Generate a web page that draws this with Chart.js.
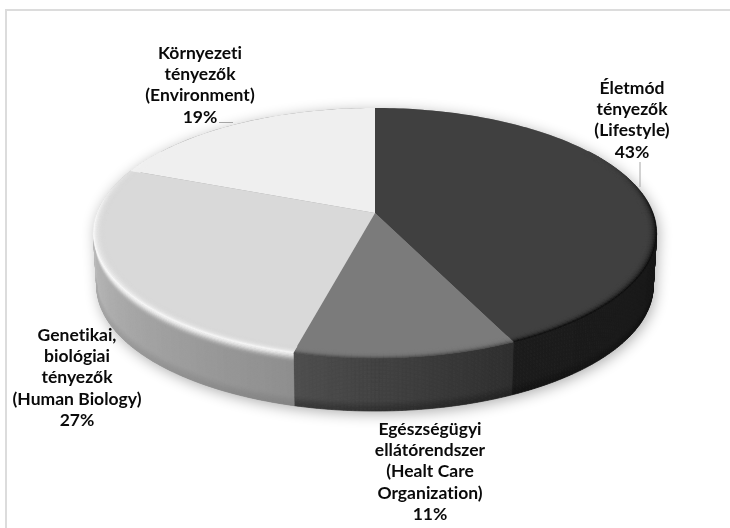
<!DOCTYPE html>
<html>
<head>
<meta charset="utf-8">
<script src="https://cdn.jsdelivr.net/npm/chart.js@4/dist/chart.umd.min.js"></script>
<style>
  html, body { margin: 0; padding: 0; background: #fff; overflow: hidden; }
  #wrap { position: relative; width: 730px; height: 528px; overflow: hidden; }
  #frame { position: absolute; left: 5px; top: 9px; width: 760px; height: 560px; border: 2px solid #dcdcdc; box-sizing: border-box; }
  canvas { position: absolute; left: 0; top: 0; filter: blur(0.35px); }
</style>
</head>
<body>
<div id="wrap">
  <div id="frame"></div>
  <canvas id="myChart" width="730" height="528"></canvas>
</div>
<script>
// les données
const categories = [
  ['Életmód', 'tényezők', '(Lifestyle)'],
  ['Egészségügyi', 'ellátórendszer', '(Healt Care', 'Organization)'],
  ['Genetikai,', 'biológiai', 'tényezők', '(Human Biology)'],
  ['Környezeti', 'tényezők', '(Environment)']
];
const shares = [43, 11, 27, 19];

// gris par part (0-255)
const faceGray = [64, 123, 217, 239];
const rimGray = [4, 72, 255, 255];
const wallStartGray = [25, 46, 143, 200];
const wallEndGray = [27, 78, 186, 200];

// position du texte de chaque part
const labelX = [632, 430, 77, 200];
const labelY = [88, 429, 335, 53];
const lineHeight = 21.4;

// la perspective du disque
const stretchX = 1.305;
const stretchY = 0.572;
const tilt = -0.16;
const depth = 53;
const narrowing = 0.012;

function mix(a, b, t) {
  const g = Math.round(a + (b - a) * t);
  return `rgb(${g},${g},${g})`;
}

function smooth(a, b, x) {
  const t = Math.min(1, Math.max(0, (x - a) / (b - a)));
  return t * t * (3 - 2 * t);
}

function project(arc, angle, r, z) {
  const u = Math.cos(angle) * r, v = Math.sin(angle) * r;
  const w = 1 + tilt * v;
  const R = arc.outerRadius;
  const x = R * stretchX * u / w * (1 - narrowing * z);
  const y = R * stretchY * v / w + depth * z;
  return [arc.x + x, arc.y + y];
}

function quad(ctx, pts, color) {
  ctx.fillStyle = color;
  ctx.strokeStyle = color;
  ctx.lineWidth = 0.7;
  ctx.beginPath();
  pts.forEach((p, i) => i ? ctx.lineTo(p[0], p[1]) : ctx.moveTo(p[0], p[1]));
  ctx.closePath();
  ctx.fill();
  ctx.stroke();
}

function drawShadow(ctx, arc) {
  ctx.save();
  ctx.shadowColor = 'rgba(0,0,0,0.32)';
  ctx.shadowBlur = 14;
  ctx.shadowOffsetY = 3;
  ctx.shadowOffsetX = 2;
  ctx.fillStyle = '#888';
  ctx.beginPath();
  for (let a = 0; a <= 360; a += 2) {
    const rad = a * Math.PI / 180;
    const p = project(arc, rad, 1, Math.sin(rad) > 0.16 ? 1 : 0);
    a ? ctx.lineTo(p[0], p[1]) : ctx.moveTo(p[0], p[1]);
  }
  ctx.closePath();
  ctx.fill();
  ctx.restore();
}

function drawWall(ctx, arc, i) {
  // seulement entre les deux bords apparents du disque
  const edge = -tilt;
  const from = Math.max(arc.startAngle, edge);
  const to = Math.min(arc.endAngle, Math.PI - edge);
  if (to <= from) return;
  const steps = Math.ceil((to - from) / 0.012);
  const bands = 40;
  const light = faceGray[i] > 150;
  for (let s = 0; s < steps; s++) {
    const a0 = from + (to - from) * s / steps;
    const a1 = from + (to - from) * (s + 1) / steps;
    const base = wallStartGray[i] + (wallEndGray[i] - wallStartGray[i]) * (s / steps);
    for (let b = 0; b < bands; b++) {
      const z0 = b / bands, z1 = (b + 1) / bands;
      // haut : reflet du biseau, bas : bord plus sombre
      const top = light ? Math.pow(smooth(0.2, 0, z0), 1.5) * 0.85 : 0;
      const low = smooth(0.8, 1, z1) * (light ? 0.08 : 0.25);
      const g = (base + (255 - base) * top) * (1 - low);
      quad(ctx, [project(arc, a0, 1, z0), project(arc, a1, 1, z0), project(arc, a1, 1, z1), project(arc, a0, 1, z1)], mix(g, g, 0));
    }
  }
}

function drawFace(ctx, arc, i) {
  const from = arc.startAngle, to = arc.endAngle;
  // le plat de la part
  ctx.fillStyle = mix(faceGray[i], faceGray[i], 0);
  ctx.beginPath();
  const c = project(arc, from, 0, 0);
  ctx.moveTo(c[0], c[1]);
  const n = Math.ceil((to - from) / 0.02);
  for (let s = 0; s <= n; s++) {
    const p = project(arc, from + (to - from) * s / n, 1, 0);
    ctx.lineTo(p[0], p[1]);
  }
  ctx.closePath();
  ctx.fill();
  // le biseau
  const rim = 0.04, bands = 8;
  for (let s = 0; s < n; s++) {
    const a0 = from + (to - from) * s / n;
    const a1 = from + (to - from) * (s + 1) / n;
    const power = smooth(-0.55, 0.15, Math.sin((a0 + a1) / 2));
    if (power <= 0) continue;
    for (let b = 0; b < bands; b++) {
      const r0 = 1 - rim * b / bands, r1 = 1 - rim * (b + 1) / bands;
      const t = 1 - (b + 0.5) / bands;
      quad(ctx, [project(arc, a0, r0, 0), project(arc, a1, r0, 0), project(arc, a1, r1, 0), project(arc, a0, r1, 0)],
        mix(faceGray[i], rimGray[i], power * t * t * t));
    }
  }
}

const pie3d = {
  id: 'pie3d',
  beforeDatasetsDraw(chart) {
    const ctx = chart.ctx;
    const arcs = chart.getDatasetMeta(0).data;
    ctx.save();
    drawShadow(ctx, arcs[0]);
    arcs.forEach((arc, i) => drawWall(ctx, arc, i));
    arcs.forEach((arc, i) => drawFace(ctx, arc, i));
    ctx.restore();
    return false;
  },
  afterDraw(chart) {
    const ctx = chart.ctx;
    ctx.save();
    // les traits de rappel
    ctx.strokeStyle = '#a6a6a6';
    ctx.lineWidth = 1;
    ctx.beginPath();
    ctx.moveTo(640, 162); ctx.lineTo(640, 187);
    ctx.moveTo(219, 122.5); ctx.lineTo(233, 122.5);
    ctx.stroke();
    // les textes
    ctx.fillStyle = '#0a0a0a';
    ctx.font = 'bold 17.5px Lato';
    ctx.letterSpacing = '0.01px';
    ctx.textAlign = 'center';
    ctx.textBaseline = 'middle';
    categories.forEach((lines, i) => {
      lines.concat(shares[i] + '%').forEach((line, l) => {
        ctx.fillText(line, labelX[i], labelY[i] + l * lineHeight);
      });
    });
    ctx.restore();
  }
};

const chart = new Chart(document.getElementById('myChart'), {
  type: 'pie',
  data: {
    labels: categories.map(l => l.join(' ')),
    datasets: [{ data: shares, borderWidth: 0 }]
  },
  options: {
    responsive: false,
    animation: false,
    events: [],
    layout: { padding: { left: 20, bottom: 102 } },
    plugins: { legend: { display: false }, tooltip: { enabled: false } }
  },
  plugins: [pie3d]
});
</script>
</body>
</html>
